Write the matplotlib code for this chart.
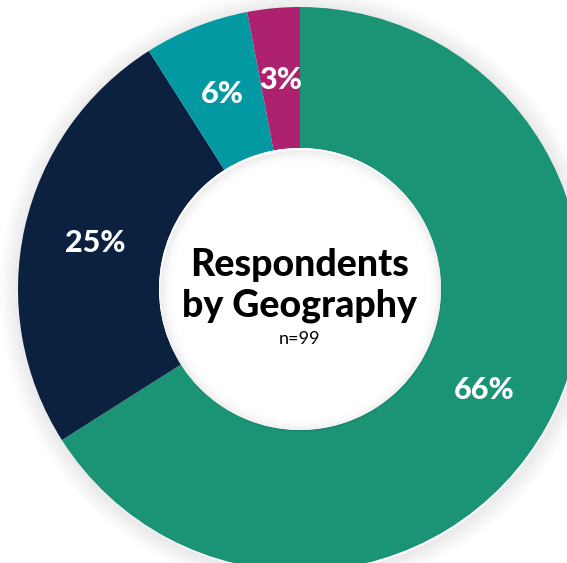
import matplotlib
matplotlib.use("Agg")
import matplotlib.pyplot as plt
from matplotlib.patches import Wedge, Circle

categories = ["Region A", "Region B", "Region C", "Region D"]
shares = [66, 25, 6, 3]
colors = ["#1B9476", "#0C213F", "#0399A2", "#AD216E"]
title_lines = ["Respondents", "by Geography"]
subtitle = "n=99"

W, H = 567, 563
fig = plt.figure(figsize=(W / 100, H / 100), dpi=100)
ax = fig.add_axes([0, 0, 1, 1])

cx, cy = 300, H - 289
R = 282
r_in = 141

# outer soft shadow
n = 18
for i in range(n):
    rr = R + 20 - i * (20 / n)
    ax.add_patch(Wedge((cx + 1, cy - 2), rr, 0, 360, width=20 / n + 0.5,
                       facecolor="black", alpha=0.015 * (i + 1) / n * 4, lw=0, zorder=1))

wedges, texts, autotexts = ax.pie(
    shares, colors=colors, startangle=90, counterclock=False,
    radius=R, center=(cx, cy), frame=True,
    wedgeprops=dict(width=R - r_in, linewidth=0),
    autopct=lambda p: f"{p:.0f}%", pctdistance=0.745,
    textprops=dict(color="white", fontsize=22, fontweight="black", family="Lato"),
)
for w in wedges:
    w.set_zorder(2)
for t in autotexts:
    t.set_zorder(5)

# inner hole
ax.add_patch(Circle((cx, cy), r_in, facecolor="white", lw=0, zorder=3))
m = 14
for i in range(m):
    rr = r_in - i * (14 / m)
    ax.add_patch(Wedge((cx + 1, cy - 2), rr, 0, 360, width=14 / m + 0.5,
                       facecolor="black", alpha=0.05 * (1 - i / m) ** 2, lw=0, zorder=4))

ax.set_xlim(0, W)
ax.set_ylim(0, H)
ax.set_aspect("equal")
ax.axis("off")

ax.text(cx, H - 265, title_lines[0], ha="center", va="center", fontsize=27,
        fontweight="black", family="Lato", color="black", zorder=6)
ax.text(cx, H - 306, title_lines[1], ha="center", va="center", fontsize=27,
        fontweight="black", family="Lato", color="black", zorder=6)
ax.text(cx, H - 339, subtitle, ha="center", va="center", fontsize=13,
        family="Lato", color="black", zorder=6)

fig.savefig("out.png", dpi=100, facecolor="white")
